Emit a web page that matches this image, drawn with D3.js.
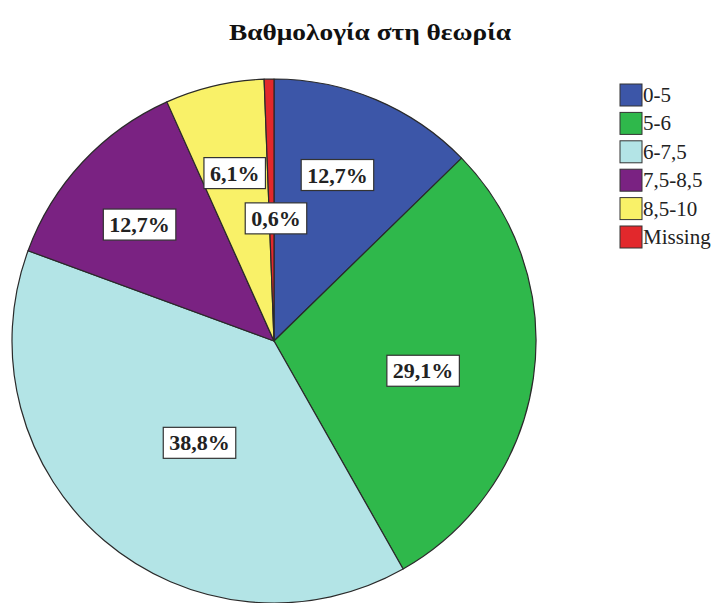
<!DOCTYPE html>
<html>
<head>
    <meta charset="UTF-8">
    <script src="https://d3js.org/d3.v7.min.js"></script>
    <title>Pie chart</title>
    <style>
        body { margin: 0; background: #fff; }
        svg { display: block; }
    </style>
</head>
<body>
<svg id="chart" width="724" height="603"></svg>
<script>
    // chart data
    const categories = ["0-5", "5-6", "6-7,5", "7,5-8,5", "8,5-10", "Missing"];
    const percents = [12.7, 29.1, 38.8, 12.7, 6.1, 0.6];
    const labels = ["12,7%", "29,1%", "38,8%", "12,7%", "6,1%", "0,6%"];
    const colors = ["#3c56a8", "#2fb84b", "#b3e4e6", "#7a2282", "#f9f168", "#e2282c"];

    const cx = 274, cy = 341, radius = 262;
    const serif = "Liberation Serif";

    // where SPSS put the label boxes: fraction of radius and angle nudge (deg)
    const labelPlace = [
        { r: 0.68, da: -2 },
        { r: 0.58, da: 3 },
        { r: 0.48, da: -4 },
        { r: 0.68, da: -2 },
        { r: 0.66, da: 0 },
        { r: 0.47, da: 2 }
    ];

    const svg = d3.select("#chart");

    // title
    svg.append("text")
        .attr("x", 370)
        .attr("y", 40)
        .attr("text-anchor", "middle")
        .attr("font-family", serif)
        .attr("font-weight", "bold")
        .attr("font-size", 23)
        .attr("textLength", 282)
        .attr("lengthAdjust", "spacingAndGlyphs")
        .attr("fill", "#111")
        .text("Βαθμολογία στη θεωρία");

    const pie = d3.pie().sort(null).value(d => d)(percents);
    const arc = d3.arc().innerRadius(0).outerRadius(radius);

    const g = svg.append("g").attr("transform", `translate(${cx},${cy})`);

    g.selectAll("path")
        .data(pie)
        .enter()
        .append("path")
        .attr("d", arc)
        .attr("fill", (d, i) => colors[i])
        .attr("stroke", "#2a2a2a")
        .attr("stroke-width", 1.2)
        .attr("stroke-linejoin", "round");

    // label boxes
    const charW = ch => (ch === "," ? 5.5 : ch === "%" ? 22 : 11);
    const boxW = s => Array.from(s).reduce((a, c) => a + charW(c), 0) + 12;

    const lab = g.selectAll("g.lab")
        .data(pie)
        .enter()
        .append("g")
        .attr("class", "lab")
        .attr("transform", (d, i) => {
            const p = labelPlace[i];
            const a = (d.startAngle + d.endAngle) / 2 + p.da * Math.PI / 180;
            const r = radius * p.r;
            return `translate(${r * Math.sin(a)},${-r * Math.cos(a)})`;
        });

    lab.append("rect")
        .attr("x", (d, i) => -boxW(labels[i]) / 2)
        .attr("y", -15)
        .attr("width", (d, i) => boxW(labels[i]))
        .attr("height", 31)
        .attr("fill", "#fff")
        .attr("stroke", "#333")
        .attr("stroke-width", 1.2);

    lab.append("text")
        .attr("text-anchor", "middle")
        .attr("y", 8)
        .attr("font-family", serif)
        .attr("font-weight", "bold")
        .attr("font-size", 22)
        .attr("fill", "#222")
        .text((d, i) => labels[i]);

    // legend
    const legendY = d3.scalePoint()
        .domain(categories)
        .range([84, 84 + 28.4 * 5]);

    const item = svg.append("g").selectAll("g")
        .data(categories)
        .enter()
        .append("g")
        .attr("transform", d => `translate(620,${legendY(d)})`);

    item.append("rect")
        .attr("width", 22)
        .attr("height", 22)
        .attr("fill", (d, i) => colors[i])
        .attr("stroke", "#333")
        .attr("stroke-width", 1);

    item.append("text")
        .attr("x", 23)
        .attr("y", 18)
        .attr("font-family", serif)
        .attr("font-size", 21)
        .attr("fill", "#222")
        .text(d => d);
</script>
</body>
</html>
